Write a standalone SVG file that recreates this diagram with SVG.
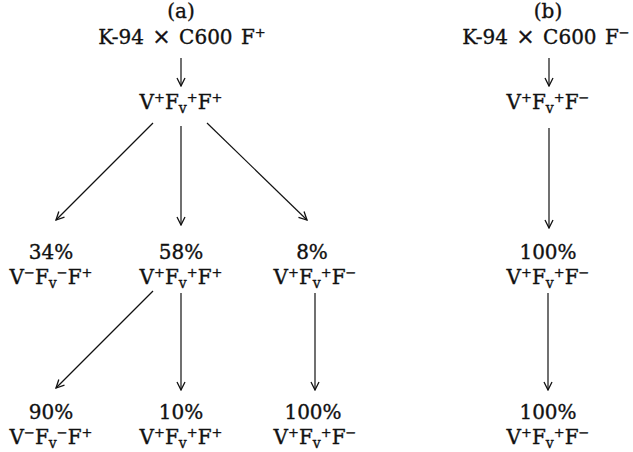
<svg xmlns="http://www.w3.org/2000/svg" width="633" height="452" viewBox="0 0 633 452">
<style>
text{font-family:"DejaVu Serif","Liberation Serif",serif;font-size:20px;fill:#111;stroke:#111;stroke-width:0.35;text-anchor:middle}
.t{word-spacing:2px}
.x{font-size:22px}
.sup{font-size:13px}
.sub{font-size:14px}
.c line{stroke:#111;stroke-width:1.2;fill:none;marker-end:url(#ah)}
</style>
<defs>
<marker id="ah" viewBox="0 0 10 10" refX="9" refY="5" markerWidth="10" markerHeight="10" markerUnits="userSpaceOnUse" orient="auto">
<path d="M1,1 L9,5 L1,9" fill="none" stroke="#111" stroke-width="1.3"/>
</marker>
</defs>
<rect width="633" height="452" fill="#fff"/>
<g id="label-a"><text x="181" y="18">(a)</text></g>
<g id="cross-a"><text class="t" x="182" y="44">K-94 <tspan class="x">×</tspan> C600 F<tspan class="sup" dy="-7">+</tspan></text></g>
<g id="a-parent"><text x="181" y="109">V<tspan class="sup" dy="-7">+</tspan><tspan dy="7">F</tspan><tspan class="sub" dy="4">v</tspan><tspan class="sup" dy="-11">+</tspan><tspan dy="7">F</tspan><tspan class="sup" dy="-7">+</tspan></text></g>
<g id="a-34"><text x="51" y="259">34%</text><text x="51" y="284">V<tspan class="sup" dy="-7">−</tspan><tspan dy="7">F</tspan><tspan class="sub" dy="4">v</tspan><tspan class="sup" dy="-11">−</tspan><tspan dy="7">F</tspan><tspan class="sup" dy="-7">+</tspan></text></g>
<g id="a-58"><text x="181" y="259">58%</text><text x="181" y="284">V<tspan class="sup" dy="-7">+</tspan><tspan dy="7">F</tspan><tspan class="sub" dy="4">v</tspan><tspan class="sup" dy="-11">+</tspan><tspan dy="7">F</tspan><tspan class="sup" dy="-7">+</tspan></text></g>
<g id="a-8"><text x="312" y="259">8%</text><text x="315" y="284">V<tspan class="sup" dy="-7">+</tspan><tspan dy="7">F</tspan><tspan class="sub" dy="4">v</tspan><tspan class="sup" dy="-11">+</tspan><tspan dy="7">F</tspan><tspan class="sup" dy="-7">−</tspan></text></g>
<g id="a-90"><text x="51" y="419">90%</text><text x="51" y="444">V<tspan class="sup" dy="-7">−</tspan><tspan dy="7">F</tspan><tspan class="sub" dy="4">v</tspan><tspan class="sup" dy="-11">−</tspan><tspan dy="7">F</tspan><tspan class="sup" dy="-7">+</tspan></text></g>
<g id="a-10"><text x="181" y="419">10%</text><text x="181" y="444">V<tspan class="sup" dy="-7">+</tspan><tspan dy="7">F</tspan><tspan class="sub" dy="4">v</tspan><tspan class="sup" dy="-11">+</tspan><tspan dy="7">F</tspan><tspan class="sup" dy="-7">+</tspan></text></g>
<g id="a-100"><text x="313" y="419">100%</text><text x="315" y="444">V<tspan class="sup" dy="-7">+</tspan><tspan dy="7">F</tspan><tspan class="sub" dy="4">v</tspan><tspan class="sup" dy="-11">+</tspan><tspan dy="7">F</tspan><tspan class="sup" dy="-7">−</tspan></text></g>
<g id="label-b"><text x="548" y="18">(b)</text></g>
<g id="cross-b"><text class="t" x="546" y="44">K-94 <tspan class="x">×</tspan> C600 F<tspan class="sup" dy="-7">−</tspan></text></g>
<g id="b-parent"><text x="548" y="109">V<tspan class="sup" dy="-7">+</tspan><tspan dy="7">F</tspan><tspan class="sub" dy="4">v</tspan><tspan class="sup" dy="-11">+</tspan><tspan dy="7">F</tspan><tspan class="sup" dy="-7">−</tspan></text></g>
<g id="b-100a"><text x="548" y="259">100%</text><text x="548" y="284">V<tspan class="sup" dy="-7">+</tspan><tspan dy="7">F</tspan><tspan class="sub" dy="4">v</tspan><tspan class="sup" dy="-11">+</tspan><tspan dy="7">F</tspan><tspan class="sup" dy="-7">−</tspan></text></g>
<g id="b-100b"><text x="548" y="419">100%</text><text x="548" y="444">V<tspan class="sup" dy="-7">+</tspan><tspan dy="7">F</tspan><tspan class="sub" dy="4">v</tspan><tspan class="sup" dy="-11">+</tspan><tspan dy="7">F</tspan><tspan class="sup" dy="-7">−</tspan></text></g>
<g id="connectors" class="c">
<line x1="181" y1="58" x2="181" y2="86"/>
<line x1="153" y1="123" x2="56" y2="220"/>
<line x1="181" y1="126" x2="181" y2="225"/>
<line x1="207" y1="123" x2="307" y2="220"/>
<line x1="153" y1="291" x2="56" y2="388"/>
<line x1="181" y1="293" x2="181" y2="390"/>
<line x1="315" y1="293" x2="315" y2="390"/>
<line x1="549" y1="58" x2="549" y2="86"/>
<line x1="549" y1="128" x2="549" y2="228"/>
<line x1="548" y1="293" x2="548" y2="390"/>
</g>
</svg>
